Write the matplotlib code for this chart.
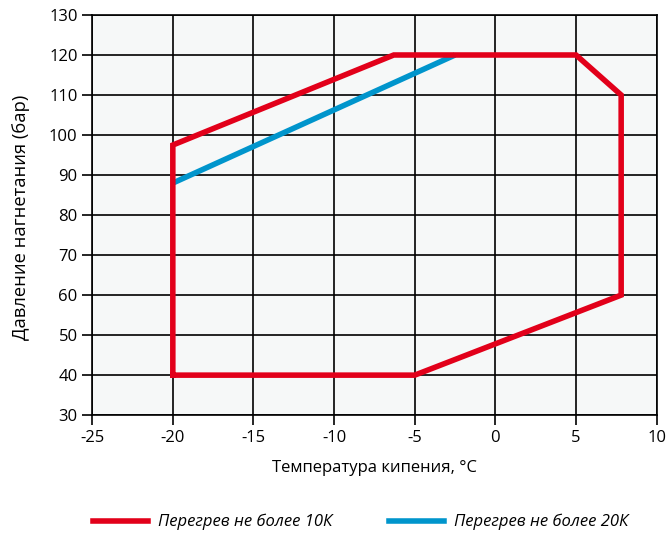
import matplotlib.pyplot as plt
from matplotlib.lines import Line2D

# Envelope for superheat <= 10K (closed polygon)
red_t = [-20, -5, 7.8, 7.8, 5, -6.3, -20, -20]
red_p = [40, 40, 60, 110, 120, 120, 97.5, 40]

# Upper limit for superheat <= 20K
blue_t = [-20, -2.5]
blue_p = [88, 120]

x_ticks = [-25, -20, -15, -10, -5, 0, 5, 10]
y_ticks = [30, 40, 50, 60, 70, 80, 90, 100, 110, 120, 130]

RED = '#e2001a'
BLUE = '#0095cc'

plt.rcParams['font.family'] = ['Open Sans', 'DejaVu Sans']

fig = plt.figure(figsize=(6.68, 5.35), dpi=100)
ax = fig.add_axes([0.138, 0.224, 0.845, 0.748])
ax.set_facecolor('#f6f8f8')

ax.plot(red_t, red_p, color=RED, lw=4, solid_joinstyle='miter', zorder=3)
ax.plot(blue_t, blue_p, color=BLUE, lw=4, solid_capstyle='butt', zorder=2)

ax.set_xlim(-25, 10)
ax.set_ylim(30, 130)
ax.set_xticks(x_ticks)
ax.set_yticks(y_ticks)
ax.set_xticklabels([str(v) for v in x_ticks])
ax.grid(True, color='black', lw=1.2)
ax.set_axisbelow(True)
for s in ax.spines.values():
    s.set_color('black')
    s.set_linewidth(1.2)
ax.tick_params(direction='out', length=7, width=1.2, labelsize=12, colors='black')

ax.set_xlabel('Температура кипения, °C', fontsize=12, labelpad=10)
ax.set_ylabel('Давление нагнетания (бар)', fontsize=13.2)
ax.yaxis.set_label_coords(-0.11, 0.495)

handles = [Line2D([], [], color=RED, lw=4),
           Line2D([], [], color=BLUE, lw=4)]
fig.legend(handles, ['Перегрев не более 10К', 'Перегрев не более 20К'],
           loc='center', bbox_to_anchor=(0.54, 0.024), ncol=2, frameon=False,
           prop={'style': 'italic', 'size': 12}, handlelength=3.3,
           handletextpad=0.6, columnspacing=3.4)

fig.savefig('out.png', dpi=100)
